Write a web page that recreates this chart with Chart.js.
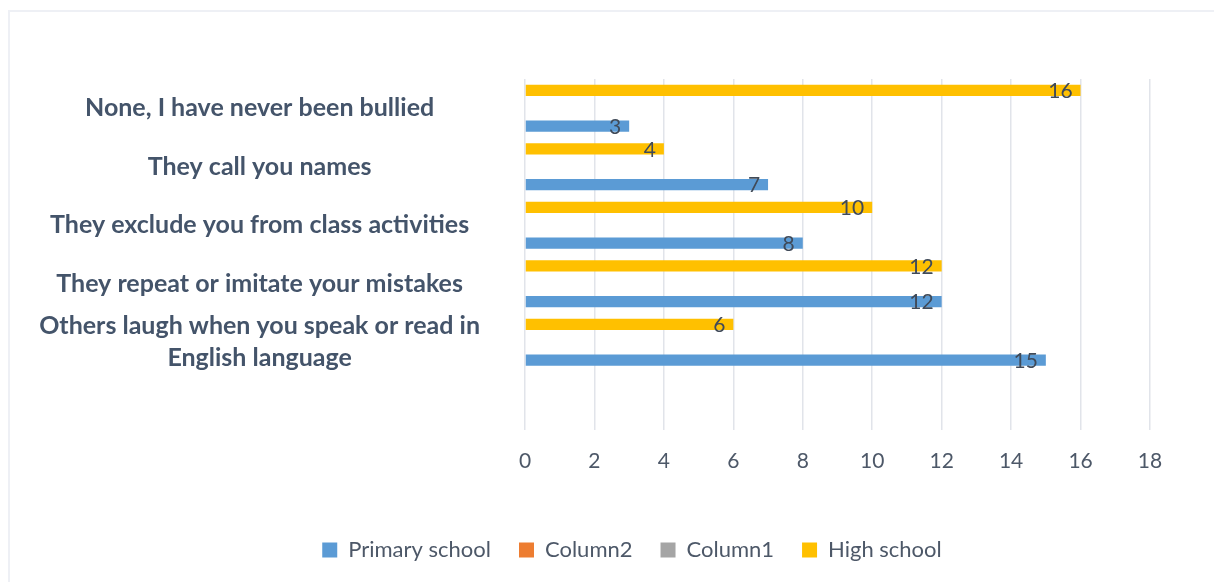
<!DOCTYPE html>
<html>
<head>
<meta charset="utf-8">
<script src="https://cdn.jsdelivr.net/npm/chart.js@4/dist/chart.umd.min.js"></script>
<style>
  html, body { margin: 0; padding: 0; background: #ffffff; }
  #wrap { position: relative; width: 1214px; height: 582px; overflow: hidden; }
  #frame { position: absolute; left: 8px; top: 10px; right: -4px; bottom: -4px;
           border-top: 2px solid #eef0f5; border-left: 2px solid #eef0f5; }
  #chart { position: absolute; left: 0; top: 0; }
</style>
</head>
<body>
<div id="wrap">
  <div id="frame"></div>
  <canvas id="chart" width="1214" height="582"></canvas>
</div>
<script>
// Survey answers, top to bottom (last slot is an empty row at the bottom of the plot)
const categories = [
  'None, I have never been bullied',
  'They call you names',
  'They exclude you from class activities',
  'They repeat or imitate your mistakes',
  ['Others laugh when you speak or read in', 'English language'],
  ''
];
const primarySchool = [3, 7, 8, 12, 15, null];
const highSchool    = [16, 4, 10, 12, 6, null];
const column1       = [null, null, null, null, null, null];
const column2       = [null, null, null, null, null, null];
const xTicks = [0, 2, 4, 6, 8, 10, 12, 14, 16, 18];

const FONT = 'Lato, "Open Sans", sans-serif';
const LABEL_COLOR = '#44546a';
const TEXT_COLOR = '#4d5868';

// Category labels are centred in the gutter left of the plot
const PLOT_LEFT = 525;
const LABEL_CENTER_X = 260;
const catFont = { family: FONT, size: 25, weight: 'bold', lineHeight: 1.28 };

function widestLabel() {
  const c = document.createElement('canvas').getContext('2d');
  c.font = `bold ${catFont.size}px ${FONT}`;
  let w = 0;
  categories.forEach(l => [].concat(l).forEach(t => { w = Math.max(w, c.measureText(t).width); }));
  return w;
}
const yPad = Math.round(PLOT_LEFT - LABEL_CENTER_X - widestLabel() / 2);

// Value labels drawn just inside the end of each bar
const valueLabels = {
  id: 'valueLabels',
  afterDatasetsDraw(chart) {
    const ctx = chart.ctx;
    ctx.save();
    ctx.font = `21px ${FONT}`;
    ctx.fillStyle = '#404a58';
    ctx.textAlign = 'right';
    ctx.textBaseline = 'middle';
    chart.data.datasets.forEach((ds, i) => {
      const meta = chart.getDatasetMeta(i);
      if (meta.hidden) return;
      meta.data.forEach((bar, j) => {
        const v = ds.data[j];
        if (v === null || v === undefined) return;
        ctx.fillText(String(v), bar.x - 8, bar.y + 1);
      });
    });
    ctx.restore();
  }
};

// Centre the legend under the framed chart rather than the whole canvas
const LEGEND_CENTER_X = 632;
const legendCentre = {
  id: 'legendCentre',
  afterLayout(chart) {
    const lg = chart.legend;
    if (!lg) return;
    const dx = LEGEND_CENTER_X - (lg.left + lg.right) / 2;
    lg.left += dx;
    lg.right += dx;
    (lg.legendHitBoxes || []).forEach(h => { h.left += dx; });
  }
};

new Chart(document.getElementById('chart'), {
  type: 'bar',
  data: {
    labels: categories,
    datasets: [
      { label: 'High school', data: highSchool, backgroundColor: '#ffc000' },
      { label: 'Column1', data: column1, backgroundColor: '#a5a5a5' },
      { label: 'Column2', data: column2, backgroundColor: '#ed7d31' },
      { label: 'Primary school', data: primarySchool, backgroundColor: '#5b9bd5' }
    ]
  },
  options: {
    indexAxis: 'y',
    responsive: false,
    animation: false,
    devicePixelRatio: 1,
    datasets: { bar: { categoryPercentage: 0.81, barPercentage: 0.95, borderWidth: 0 } },
    layout: { padding: { top: 79, right: 64, left: 0, bottom: 11 } },
    scales: {
      x: {
        min: 0, max: 18,
        afterBuildTicks: s => { s.ticks = xTicks.map(v => ({ value: v })); },
        afterFit: s => { s.height = 81; s.paddingLeft = 0; s.paddingRight = 0; },
        grid: { color: '#e1e4ea', lineWidth: 1.5, drawTicks: false },
        border: { display: false },
        ticks: { padding: 19, color: TEXT_COLOR, font: { family: FONT, size: 21 } }
      },
      y: {
        afterFit: s => { s.width = PLOT_LEFT; s.paddingTop = 0; s.paddingBottom = 0; },
        grid: { display: false, drawTicks: false },
        border: { display: false },
        ticks: { autoSkip: false, crossAlign: 'center', padding: yPad, color: LABEL_COLOR, font: catFont }
      }
    },
    plugins: {
      legend: {
        position: 'bottom',
        reverse: true,
        labels: {
          boxWidth: 15, boxHeight: 15, padding: 28,
          color: TEXT_COLOR, font: { family: FONT, size: 22 }
        }
      },
      tooltip: { enabled: false }
    }
  },
  plugins: [valueLabels, legendCentre]
});
</script>
</body>
</html>
